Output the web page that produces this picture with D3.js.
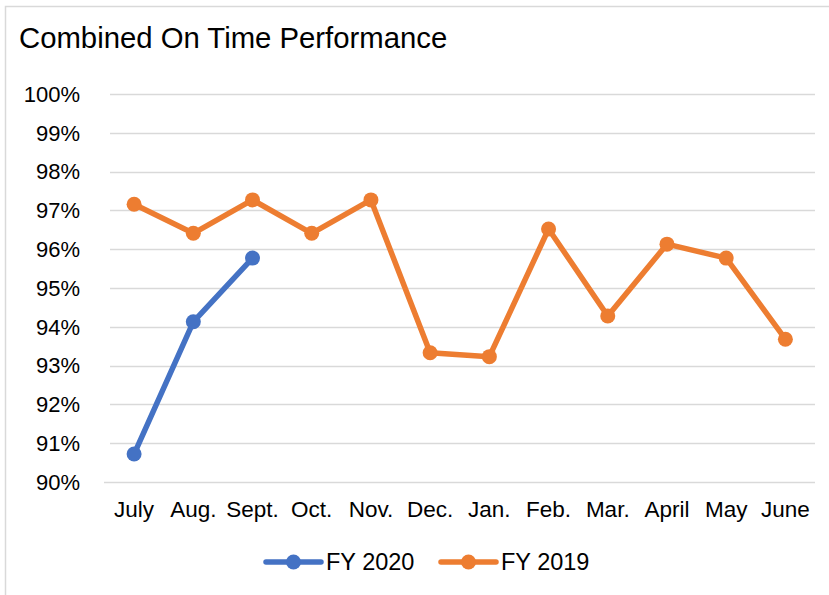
<!DOCTYPE html>
<html>
<head>
<meta charset="UTF-8">
<title>Combined On Time Performance</title>
<script src="https://cdn.jsdelivr.net/npm/d3@7"></script>
<style>
    body {
        margin: 0;
        background: #ffffff;
        font-family: 'Liberation Sans', Arial, sans-serif;
    }
</style>
</head>
<body>
<div id="chart"></div>
<script>
    // chart data
    var months = ["July", "Aug.", "Sept.", "Oct.", "Nov.", "Dec.", "Jan.", "Feb.", "Mar.", "April", "May", "June"];
    var fy2020 = [90.72, 94.13, 95.77];
    var fy2019 = [97.16, 96.41, 97.27, 96.41, 97.27, 93.33, 93.23, 96.52, 94.28, 96.13, 95.77, 93.68];
    var yTicks = [90, 91, 92, 93, 94, 95, 96, 97, 98, 99, 100];
    var seriesNames = ["FY 2020", "FY 2019"];

    var width = 829, height = 595;
    var colors = { "FY 2020": "#4472C4", "FY 2019": "#ED7D31" };

    var svg = d3.select("#chart").append("svg")
        .attr("width", width)
        .attr("height", height);

    // outer chart border (runs off the right and bottom)
    svg.append("rect")
        .attr("x", 5.5).attr("y", 6.5)
        .attr("width", 840).attr("height", 620)
        .attr("fill", "#fff")
        .attr("stroke", "#D9D9D9")
        .attr("stroke-width", 1.5);

    svg.append("text")
        .attr("x", 19).attr("y", 48)
        .attr("font-size", 29.3)
        .attr("fill", "#000")
        .text("Combined On Time Performance");

    var x = d3.scalePoint().domain(months).range([104.5, 815]).padding(0.5);
    var y = d3.scaleLinear().domain([90, 100]).range([482, 94]);

    // gridlines
    svg.append("g").selectAll("line")
        .data(yTicks.filter(function(d) { return d > 90; }))
        .enter().append("line")
        .attr("x1", 110).attr("x2", 815)
        .attr("y1", function(d) { return Math.round(y(d)) + 0.5; })
        .attr("y2", function(d) { return Math.round(y(d)) + 0.5; })
        .attr("stroke", "#D9D9D9")
        .attr("stroke-width", 1.3);

    // category axis line
    svg.append("line")
        .attr("x1", 104).attr("x2", 815)
        .attr("y1", Math.round(y(90)) + 0.5).attr("y2", Math.round(y(90)) + 0.5)
        .attr("stroke", "#D9D9D9")
        .attr("stroke-width", 1.3);

    // y labels
    svg.append("g").selectAll("text")
        .data(yTicks)
        .enter().append("text")
        .attr("x", 80)
        .attr("y", function(d) { return y(d); })
        .attr("dy", "0.35em")
        .attr("text-anchor", "end")
        .attr("font-size", 22)
        .attr("fill", "#000")
        .text(function(d) { return d + "%"; });

    // x labels
    svg.append("g").selectAll("text")
        .data(months)
        .enter().append("text")
        .attr("x", function(d) { return x(d); })
        .attr("y", 517)
        .attr("text-anchor", "middle")
        .attr("font-size", 22.5)
        .attr("fill", "#000")
        .text(function(d) { return d; });

    var line = d3.line()
        .x(function(d) { return x(d.month); })
        .y(function(d) { return y(d.value); });

    function drawSeries(name, values) {
        var pts = values.map(function(v, i) { return { month: months[i], value: v }; });
        var g = svg.append("g");
        g.append("path")
            .datum(pts)
            .attr("d", line)
            .attr("fill", "none")
            .attr("stroke", colors[name])
            .attr("stroke-width", 5.5)
            .attr("stroke-linejoin", "round")
            .attr("stroke-linecap", "round");
        g.selectAll("circle")
            .data(pts)
            .enter().append("circle")
            .attr("cx", function(d) { return x(d.month); })
            .attr("cy", function(d) { return y(d.value); })
            .attr("r", 7.5)
            .attr("fill", colors[name]);
    }

    drawSeries("FY 2019", fy2019);
    drawSeries("FY 2020", fy2020);

    // legend
    var legendX = [266, 441];
    var legend = svg.append("g").selectAll("g")
        .data(seriesNames)
        .enter().append("g")
        .attr("transform", function(d, i) { return "translate(" + legendX[i] + ",562)"; });
    legend.append("line")
        .attr("x1", 0).attr("x2", 55)
        .attr("stroke", function(d) { return colors[d]; })
        .attr("stroke-width", 5.5)
        .attr("stroke-linecap", "round");
    legend.append("circle")
        .attr("cx", 27.5).attr("r", 7.5)
        .attr("fill", function(d) { return colors[d]; });
    legend.append("text")
        .attr("x", 60)
        .attr("dy", "0.35em")
        .attr("font-size", 23.5)
        .attr("fill", "#000")
        .text(function(d) { return d; });
</script>
</body>
</html>
